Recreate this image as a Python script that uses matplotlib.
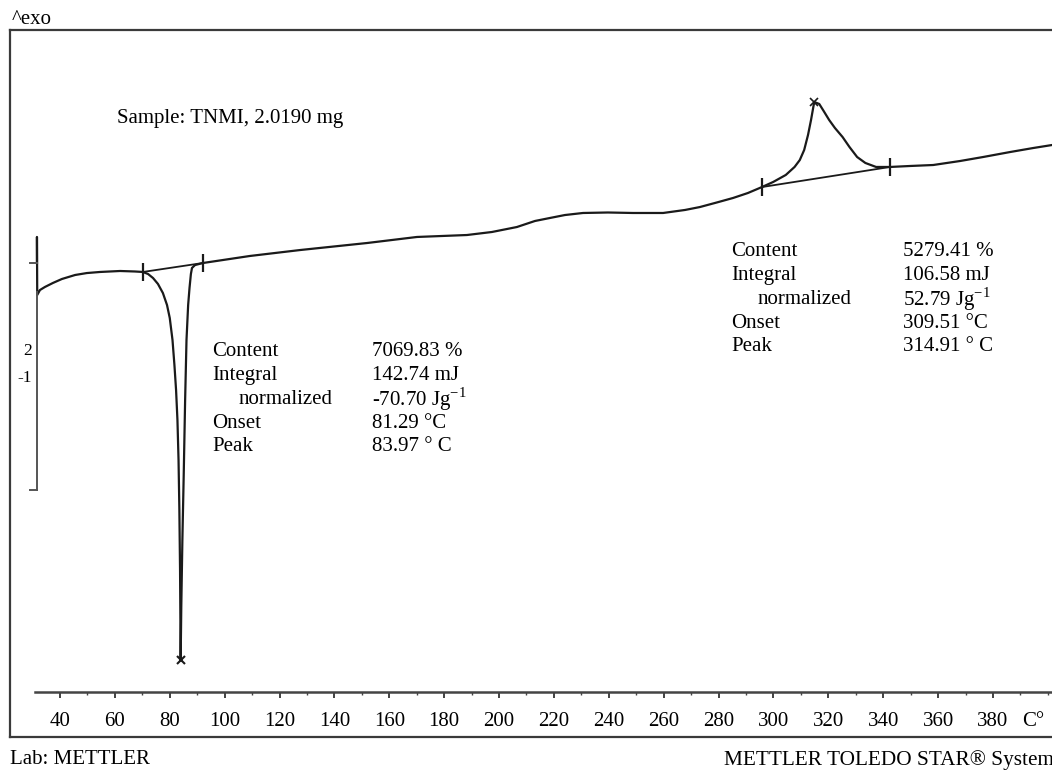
import matplotlib
matplotlib.use("Agg")
import matplotlib.pyplot as plt
from matplotlib.lines import Line2D
from matplotlib.ticker import FixedLocator

plt.rcParams['font.family'] = ['Liberation Serif', 'DejaVu Serif']
plt.rcParams['mathtext.fontset'] = 'custom'
plt.rcParams['mathtext.rm'] = 'Liberation Serif'

# DSC heat-flow trace (temperature in °C, heat flow in mW)
temperature = [31.6, 31.6, 31.7, 32.7, 34.5, 37.4, 40.7, 45.5, 49.8, 54.6, 61.9, 67.3,
               70.2, 72.1, 73.9, 75.7, 77.5, 79.0, 80.0, 81.0, 81.7, 82.3, 82.8, 83.2,
               83.5, 83.75, 83.97, 84.2, 84.6, 85.1, 85.6, 86.1, 86.7, 87.2, 87.7, 88.1,
               89.2, 92.1, 109.2, 127.5, 151.9, 170.1, 188.3, 197.4, 206.5, 213.1, 218.6,
               224.0, 230.6, 239.7, 248.8, 259.8, 267.8, 273.2, 279.4, 285.3, 290.7,
               295.8, 299.9, 304.5, 307.7, 309.6, 311.2, 312.6, 313.7, 314.6, 314.91,
               316.7, 318.3, 320.3, 322.4, 325.2, 327.7, 330.5, 333.5, 337.4, 342.5,
               349.8, 358.2, 368.0, 376.4, 386.2, 394.6, 401.5]
heat_flow = [4.400, 4.667, 4.072, 4.123, 4.154, 4.195, 4.236, 4.277, 4.297, 4.308, 4.318, 4.313,
             4.308, 4.287, 4.246, 4.185, 4.092, 3.969, 3.836, 3.610, 3.354, 3.097, 2.790, 2.379,
             1.867, 1.251, 0.328, 0.872, 1.559, 2.246, 2.995, 3.610, 3.969, 4.144, 4.287, 4.349,
             4.379, 4.400, 4.472, 4.533, 4.605, 4.667, 4.687, 4.718, 4.769, 4.831, 4.862,
             4.892, 4.913, 4.918, 4.913, 4.913, 4.944, 4.974, 5.021, 5.067, 5.118,
             5.179, 5.231, 5.303, 5.385, 5.456, 5.559, 5.713, 5.867, 6.010, 6.051,
             6.031, 5.959, 5.867, 5.785, 5.692, 5.590, 5.487, 5.426, 5.385, 5.385,
             5.395, 5.405, 5.446, 5.487, 5.538, 5.579, 5.610]

# Integration limits (baselines) and peak positions
melt_limits_T = [70.2, 92.1]
melt_limits_hf = [4.308, 4.400]
melt_peak = (83.97, 0.328)
decomp_limits_T = [295.8, 342.5]
decomp_limits_hf = [5.179, 5.385]
decomp_peak = (314.91, 6.051)

x_major = [40, 60, 80, 100, 120, 140, 160, 180, 200, 220, 240, 260, 280, 300,
           320, 340, 360, 380]
x_minor = [50, 70, 90, 110, 130, 150, 170, 190, 210, 230, 250, 270, 290, 310,
           330, 350, 370, 390, 400]
x_labels = [str(v) for v in x_major]

melt_rows = ["Content", "Integral", "normalized", "Onset", "Peak"]
melt_values = ["7069.83 %", "142.74 mJ", r"-70.70 Jg$^{\mathrm{-1}}$", "81.29 °C", "83.97 ° C"]
decomp_rows = ["Content", "Integral", "normalized", "Onset", "Peak"]
decomp_values = ["5279.41 %", "106.58 mJ", r"52.79 Jg$^{\mathrm{-1}}$", "309.51 °C", "314.91 ° C"]

W, H = 1052, 771
fig = plt.figure(figsize=(W / 100, H / 100), dpi=100)
fig.patch.set_facecolor('white')

# Axes span the whole canvas; limits place the temperature scale on the printout
px_per_deg = 2.744
px_per_mw = 97.5
x0 = 40 - 60 / px_per_deg
x1 = 40 + (W - 60) / px_per_deg
y_axis_px = 692
ylo = (y_axis_px - H) / px_per_mw
yhi = y_axis_px / px_per_mw
ax = fig.add_axes([0, 0, 1, 1])
ax.set_xlim(x0, x1)
ax.set_ylim(ylo, yhi)
ax.patch.set_alpha(0)

for s in ['top', 'right', 'left']:
    ax.spines[s].set_visible(False)
ax.spines['bottom'].set_position(('data', 0))
ax.spines['bottom'].set_bounds(40 + (35 - 60) / px_per_deg, x1)
ax.spines['bottom'].set_linewidth(1.8)
ax.spines['bottom'].set_color('#444444')
ax.yaxis.set_visible(False)
ax.xaxis.set_major_locator(FixedLocator(x_major))
ax.set_xticklabels(x_labels)
ax.xaxis.set_minor_locator(FixedLocator(x_minor))
ax.tick_params(axis='x', which='major', direction='out', length=4, width=1.3,
               color='#333333', pad=10.5, labelsize=15)
ax.tick_params(axis='x', which='minor', direction='out', length=2, width=1.0,
               color='#444444')

lc = '#1a1a1a'
ax.plot(temperature, heat_flow, color=lc, lw=1.6, solid_joinstyle='round')
ax.plot(melt_limits_T, melt_limits_hf, color=lc, lw=1.3)
ax.plot(decomp_limits_T, decomp_limits_hf, color=lc, lw=1.3)
ax.plot(melt_limits_T, melt_limits_hf, ls='none', marker='|', ms=13, mew=1.6, color=lc)
ax.plot(decomp_limits_T, decomp_limits_hf, ls='none', marker='|', ms=13, mew=1.6, color=lc)
ax.plot(*melt_peak, ls='none', marker='x', ms=6, mew=1.5, color=lc)
ax.plot(*decomp_peak, ls='none', marker='x', ms=6, mew=1.2, color=lc)

def fp(x, y):
    return x / W, 1 - y / H

# Printout frame
frame_kw = dict(color='#3a3a3a', lw=1.6, transform=fig.transFigure)
fig.add_artist(Line2D([fp(10, 30)[0], 1.0], [fp(10, 30)[1]] * 2, **frame_kw))
fig.add_artist(Line2D([fp(10, 30)[0]] * 2, [fp(10, 30)[1], fp(10, 737)[1]], **frame_kw))
fig.add_artist(Line2D([fp(10, 737)[0], 1.0], [fp(10, 737)[1]] * 2, **frame_kw))

# Heat-flow scale bar
sb_kw = dict(color='#555555', lw=1.4, transform=fig.transFigure)
fig.add_artist(Line2D([fp(37, 0)[0]] * 2, [fp(0, 292)[1], fp(0, 490)[1]], **sb_kw))
fig.add_artist(Line2D([fp(30, 0)[0], fp(37, 0)[0]], [fp(0, 490)[1]] * 2, **sb_kw))
fig.add_artist(Line2D([fp(30, 0)[0], fp(37, 0)[0]], [fp(0, 263)[1]] * 2, **sb_kw))
fig.text(*fp(32, 351), "2", ha='right', va='center', fontsize=12.5)
fig.text(*fp(32, 378), "-1", ha='right', va='center', fontsize=12.5)

fs = 15
fig.text(*fp(12, 19), "^exo", ha='left', va='center', fontsize=fs)
fig.text(*fp(117, 118), "Sample: TNMI, 2.0190 mg", ha='left', va='center', fontsize=fs)
fig.text(*fp(1022, 722), "C°", ha='left', va='center', fontsize=fs)
fig.text(*fp(10, 760), "Lab: METTLER", ha='left', va='center', fontsize=fs)
fig.text(*fp(724, 760), "METTLER TOLEDO STAR® System", ha='left', va='center', fontsize=15.3)

def result_block(x_label, x_value, y_top, rows, values):
    for i, (r, v) in enumerate(zip(rows, values)):
        y = y_top + i * 23.7
        dx = 27 if r == "normalized" else 0
        fig.text(*fp(x_label + dx, y), r, ha='left', va='center', fontsize=fs)
        fig.text(*fp(x_value, y), v, ha='left', va='center', fontsize=fs)

result_block(212, 372, 352, melt_rows, melt_values)
result_block(731, 903, 252, decomp_rows, decomp_values)

fig.savefig("out.png", dpi=100, facecolor='white')
